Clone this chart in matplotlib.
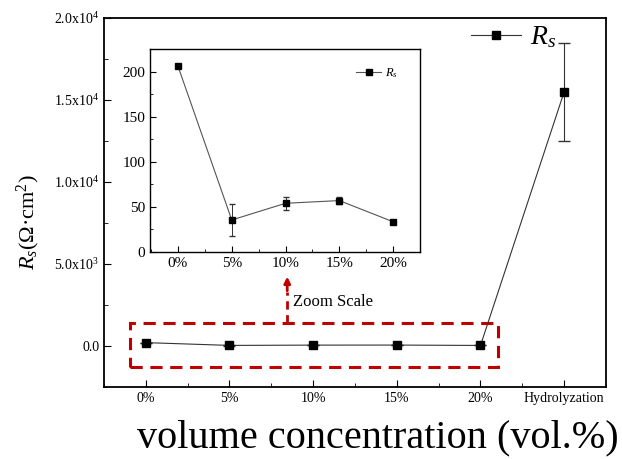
import matplotlib
matplotlib.use('Agg')
import matplotlib.pyplot as plt
from matplotlib.patches import Rectangle
from matplotlib.lines import Line2D
from matplotlib.ticker import MultipleLocator, FuncFormatter

plt.rcParams['font.family'] = ['Liberation Serif', 'DejaVu Serif']
plt.rcParams['mathtext.fontset'] = 'custom'
plt.rcParams['mathtext.rm'] = 'Liberation Serif'
plt.rcParams['mathtext.it'] = 'Liberation Serif:italic'

# main chart data
main_labels = ['0%', '5%', '10%', '15%', '20%', 'Hydrolyzation']
main_rs = [206, 36, 54, 57, 34, 15500]
main_err = [0, 18, 7, 3, 1, 3000]

# inset (zoom) data
zoom_labels = ['0%', '5%', '10%', '15%', '20%']
zoom_rs = [206, 35.5, 54, 57, 33.5]
zoom_err = [0, 18, 7, 3.5, 1]


def sci_fmt(v, pos):
  if v == 0:
    return '0.0'
  exp = 0
  m = v
  while abs(m) >= 10:
    m /= 10
    exp += 1
  return r'%.1fx10$^{%d}$' % (m, exp)


fig = plt.figure(figsize=(6.22, 4.59), dpi=100)
ax = fig.add_axes([104/622, 1-387/459, 502/622, 369/459])

x = list(range(len(main_labels)))
ax.errorbar(x, main_rs, yerr=main_err, color='#333333', lw=0.8,
            marker='s', ms=6, mfc='black', mec='black',
            capsize=4, elinewidth=0.8, ecolor='#333333')
ax.set_xlim(-0.5, 5.5)
ax.set_ylim(-2500, 20000)
ax.set_xticks(x)
ax.set_xticklabels(main_labels)
ax.xaxis.set_minor_locator(MultipleLocator(0.5))
ax.yaxis.set_major_locator(MultipleLocator(5000))
ax.yaxis.set_minor_locator(MultipleLocator(2500))
ax.yaxis.set_major_formatter(FuncFormatter(sci_fmt))
ax.tick_params(which='both', direction='in', top=False, right=False, labelsize=10)
ax.tick_params(which='major', length=5)
ax.tick_params(which='minor', length=3)
for s in ax.spines.values():
  s.set_linewidth(1.3)

ax.set_ylabel(r'$R_s$(Ω·cm$^2$)', fontsize=16)
ax.set_xlabel('volume concentration (vol.%)', fontsize=29)
ax.yaxis.set_label_coords(-0.123, 0.447)
ax.xaxis.set_label_coords(0.545, -0.087)

h_main = Line2D([], [], color='#333333', lw=0.8, marker='s', ms=6,
                mfc='black', mec='black')
ax.legend([h_main], ['$R_s$'], loc='upper right', fontsize=20, frameon=False,
          handlelength=1.8, handletextpad=0.3,
          bbox_to_anchor=(0.95, 1.05))

# zoomed-region box and arrow
ax.add_patch(Rectangle((-0.19, -1300), 4.4, 2700, fill=False,
                       ec='#c00000', lw=2.2, ls=(0, (4, 2.5))))
ax.plot([1.69, 1.69], [1400, 3300], color='#c00000', lw=2, ls=(0, (3, 2)))
ax.annotate('', xy=(1.69, 4400), xytext=(1.69, 3200),
            arrowprops=dict(arrowstyle='-|>', color='#c00000', lw=2,
                            mutation_scale=9))
ax.text(1.76, 2700, 'Zoom Scale', fontsize=12, va='center', ha='left')

# inset
ins = fig.add_axes([150/622, 1-252/459, 270/622, 203/459])
xi = list(range(len(zoom_labels)))
ins.errorbar(xi, zoom_rs, yerr=zoom_err, color='#555555', lw=0.8,
             marker='s', ms=4.5, mfc='black', mec='black',
             capsize=2.5, elinewidth=0.7, ecolor='#333333')
ins.set_xlim(-0.52, 4.5)
ins.set_ylim(0, 225)
ins.set_xticks(xi)
ins.set_xticklabels(zoom_labels)
ins.xaxis.set_minor_locator(MultipleLocator(0.5))
ins.yaxis.set_major_locator(MultipleLocator(50))
ins.yaxis.set_minor_locator(MultipleLocator(25))
ins.tick_params(which='both', direction='in', top=False, right=False, labelsize=11)
ins.tick_params(which='major', length=4)
ins.tick_params(which='minor', length=2.5)
for s in ins.spines.values():
  s.set_linewidth(1.0)
h_ins = Line2D([], [], color='#555555', lw=0.8, marker='s', ms=4.5,
               mfc='black', mec='black')
ins.legend([h_ins], ['$R_s$'], loc='upper right', fontsize=9, frameon=False,
           handlelength=2.0, handletextpad=0.3,
           bbox_to_anchor=(0.96, 0.97))

fig.savefig('out.png', dpi=100)
